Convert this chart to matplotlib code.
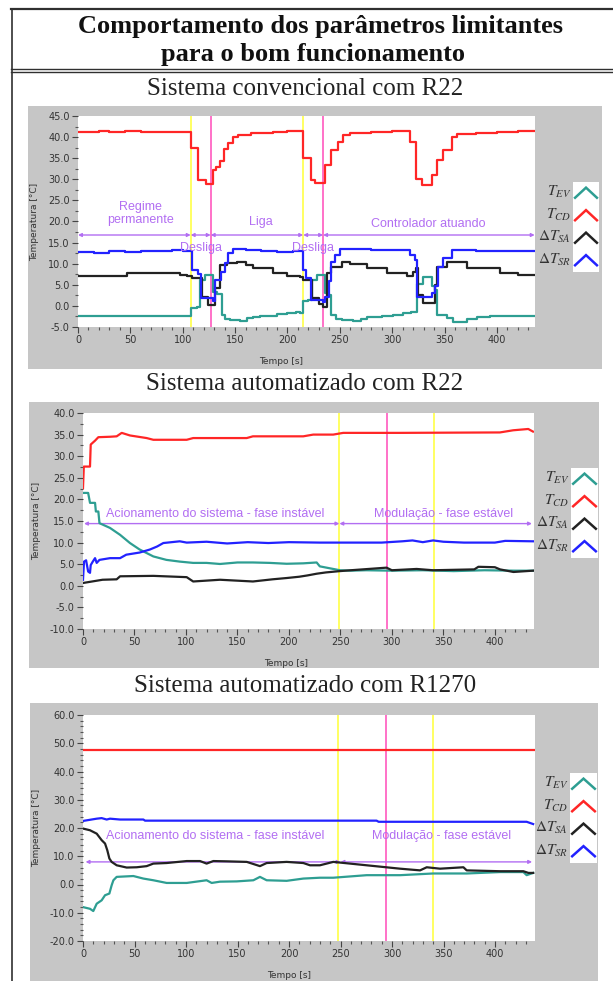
import matplotlib
matplotlib.use("Agg")
import matplotlib.pyplot as plt
from matplotlib.lines import Line2D
from matplotlib.patches import Rectangle
from matplotlib.ticker import MultipleLocator, FormatStrFormatter

plt.rcParams['mathtext.fontset'] = 'stix'

W, H = 613, 981

TEAL = '#2e9e92'
RED = '#ff2626'
BLACK = '#222222'
BLUE = '#2222ff'
YELLOW = '#ffff55'
MAGENTA = '#ff66c4'
PURPLE = '#b26ef2'
GRAY = '#c6c6c6'

series_labels = [r'$T_{EV}$', r'$T_{CD}$', r'$\mathit{\Delta} T_{SA}$', r'$\mathit{\Delta} T_{SR}$']

# --- Sistema convencional com R22 (stepped data) ---
conv_red_t = [0, 20, 30, 45, 60, 107.6, 115, 122, 128.6, 132, 135.6, 139.4, 143.5, 148.3, 153, 165,
              186.5, 200, 214.5, 222, 226, 234, 236, 242, 248.5, 253, 259.7, 280, 300, 317, 322.7, 328,
              336, 337.6, 342.4, 348.8, 356.7, 361.5, 380, 400, 420, 436.3]
conv_red = [41.3, 41.5, 41.2, 41.5, 41.3, 37.3, 29.8, 29.0, 32.2, 33.0, 34.4, 37.2, 38.6, 40.1, 40.6, 40.9,
            41.2, 41.4, 35.0, 29.8, 29.2, 29.2, 33.4, 37.0, 38.9, 40.5, 40.9, 41.2, 41.5, 38.9, 30.0, 28.6,
            28.6, 31.0, 34.6, 37.0, 40.1, 40.7, 41.0, 41.2, 41.4, 41.4]

conv_teal_t = [0, 107.6, 113.3, 116.5, 121.2, 128.6, 132.4, 137.2, 140, 145, 155, 161, 167, 174, 190, 200,
               208, 212, 215, 220, 223, 228, 236, 239, 242, 246, 252, 263, 270, 276, 290, 301, 310, 318,
               324, 329.7, 337.6, 340.8, 342.4, 352, 358.3, 371, 381, 393, 436.3]
conv_teal = [-2.4, -0.5, -0.2, 6.1, 7.3, 3.4, 2.8, -2.2, -3.0, -3.4, -3.5, -2.9, -2.6, -2.3, -2.0, -1.8,
             -1.5, -1.8, 1.2, 1.5, 6.1, 7.3, 3.1, 2.5, -2.2, -3.0, -3.4, -3.5, -3.0, -2.6, -2.3, -2.2, -1.8, -1.4,
             5.3, 6.8, 4.6, 3.8, -2.2, -2.9, -3.7, -3.0, -2.6, -2.3, -2.3]

conv_black_t = [0, 46.5, 97.4, 103.7, 108.5, 118, 124.4, 130.8, 135.6, 141.9, 151.5, 160, 167.4, 186.5, 200,
                212, 215, 223, 230, 234, 237.4, 242, 251.7, 260, 275.6, 294.7, 313.8, 320, 323, 325, 329.7,
                340.8, 342.4, 352, 371, 402.9, 420, 436.3]
conv_black = [7.1, 7.7, 7.4, 7.1, 6.5, 2.2, 0.2, 4.2, 9.7, 10.1, 10.3, 9.8, 8.9, 7.7, 7.2,
              6.8, 6.1, 1.8, 0.5, -0.2, 7.7, 9.3, 10.5, 10.0, 8.9, 7.9, 7.1, 8.0, 8.9, 2.6, 0.8,
              5.0, 9.3, 10.3, 8.9, 7.7, 7.3, 7.3]

conv_blue_t = [0, 15, 30, 45, 60, 75, 90, 100, 108.5, 114.9, 117, 129, 131, 137, 140.3, 143.5, 148.3, 160,
               175, 190, 205, 214.5, 218, 222, 234, 236, 240, 242, 245, 250, 260, 280, 300, 317, 321.7,
               324, 338, 340.8, 344, 348.8, 356.7, 380, 400, 420, 436.3]
conv_blue = [12.8, 12.6, 13.0, 12.8, 13.1, 12.9, 13.2, 13.0, 8.5, 7.6, 1.8, 1.2, 6.1, 8.0, 10.1, 12.5, 13.5, 13.3,
             13.0, 12.8, 12.9, 8.5, 6.5, 1.5, 1.0, 2.0, 6.0, 10.5, 12.1, 13.4, 13.6, 13.3, 13.2, 12.0, 10.9,
             2.2, 3.0, 4.6, 9.3, 11.3, 13.2, 13.0, 12.9, 13.0, 13.0]

conv_yellow = [107.6, 215]
conv_magenta = [126.7, 234]
conv_phases = [0, 107.6, 126.7, 215, 234, 436]

# --- Sistema automatizado com R22 ---
aut22_red_t = [0, 0.8, 6.8, 7.5, 11.7, 14.9, 26.2, 32.7, 37.6, 45.6, 61.8, 68.3, 100.7, 107, 159, 165,
               213.9, 223.6, 243, 252.7, 307.8, 404.9, 417.8, 432.4, 437]
aut22_red = [22.6, 27.6, 27.6, 32.7, 33.6, 34.4, 34.5, 34.6, 35.4, 34.8, 34.2, 33.8, 33.8, 34.2, 34.2, 34.6,
             34.6, 35.0, 35.0, 35.4, 35.4, 35.5, 36.0, 36.3, 35.7]

aut22_teal_t = [0, 5, 6.8, 11.7, 12.5, 14.9, 16, 26.2, 36, 45.6, 55, 68.3, 81, 94, 107, 120, 133, 150, 165,
                181.6, 197.8, 213.9, 226.9, 230, 243, 249.5, 260, 275, 300, 330, 360, 390, 420, 437]
aut22_teal = [21.5, 21.5, 19.2, 19.2, 17.2, 17.2, 14.5, 13.4, 11.8, 9.9, 8.4, 6.8, 6.0, 5.6, 5.3, 5.3, 5.05,
              5.4, 5.4, 5.3, 5.1, 5.2, 5.4, 4.5, 3.9, 3.6, 3.5, 3.6, 3.5, 3.6, 3.4, 3.6, 3.5, 3.5]

aut22_black_t = [0, 19, 32.7, 36, 68.3, 100.7, 107, 133, 165, 184, 197.8, 210, 218, 227, 236, 249.5, 260,
                 294.8, 300, 324, 340, 380, 384, 400, 405, 418, 437]
aut22_black = [0.65, 1.4, 1.5, 2.2, 2.3, 2.0, 1.0, 1.4, 1.0, 1.5, 1.8, 2.1, 2.4, 2.8, 3.1, 3.4, 3.6,
               4.2, 3.6, 3.9, 3.6, 3.8, 4.4, 4.3, 3.8, 3.2, 3.5]

aut22_blue_t = [0, 1, 3, 5, 6.8, 7.5, 9.5, 11.7, 13.3, 16, 26.2, 36, 42, 55, 65, 72, 78, 94, 100.7, 120, 140,
                160, 180, 200, 230, 260, 290, 310, 320, 330, 340, 350, 370, 400, 410, 437]
aut22_blue = [1.4, 5.6, 5.9, 3.3, 3.0, 4.8, 5.6, 6.4, 5.3, 6.0, 6.4, 6.4, 7.2, 7.7, 8.4, 9.1, 9.9, 10.3, 10.0,
              10.2, 9.8, 10.1, 9.9, 10.1, 10.0, 10.0, 10.0, 10.3, 10.5, 10.1, 10.5, 10.2, 10.0, 10.0, 10.4, 10.3]

aut22_yellow = [249, 341]
aut22_magenta = [295.5]
aut22_phases = [1, 249, 436]

# --- Sistema automatizado com R1270 ---
aut1270_red_t = [0, 438]
aut1270_red = [47.6, 47.6]

aut1270_blue_t = [0, 13.3, 18.1, 23, 26.2, 36, 58.6, 60.2, 285, 287, 430.7, 437]
aut1270_blue = [22.5, 23.3, 23.5, 23.0, 23.3, 23.0, 23.0, 22.6, 22.6, 22.2, 22.2, 21.4]

aut1270_black_t = [0, 6.8, 13.3, 18.1, 21.4, 23.6, 25.6, 27.8, 32.7, 42.4, 52.1, 61.8, 68.3, 81.2, 100.7,
                   113.6, 120, 126.5, 139.5, 159, 171.8, 178.3, 197.7, 213.9, 220.4, 230, 243, 275.4, 307.8,
                   327.2, 333.7, 346.6, 369.3, 372.5, 404.9, 427.5, 432.4, 437]
aut1270_black = [19.8, 19.2, 18.0, 15.7, 14.5, 12.1, 9.2, 8.0, 6.8, 6.0, 6.1, 6.5, 7.4, 7.6, 8.3,
                 8.3, 7.4, 8.3, 8.2, 8.0, 6.5, 7.6, 8.0, 7.6, 6.8, 6.8, 8.0, 6.8, 5.6,
                 5.0, 6.1, 5.6, 6.1, 5.0, 4.7, 4.7, 4.1, 4.1]

aut1270_teal_t = [0, 6.8, 10, 13.3, 18.1, 21.4, 25.6, 27.8, 29.5, 32.7, 48.9, 58.6, 68.3, 81.2, 100.7, 120,
                  124.9, 133, 149.2, 165.4, 171.8, 178.3, 197.7, 213.9, 230, 243, 275.4, 307.8, 340, 372.5,
                  404.9, 427.5, 430.7, 437]
aut1270_teal = [-8.0, -8.6, -9.4, -6.8, -5.6, -3.8, -3.2, -0.3, 1.5, 2.7, 3.0, 2.1, 1.5, 0.55, 0.55, 1.5,
                0.55, 1.0, 1.1, 1.5, 2.7, 1.5, 1.3, 2.1, 2.4, 2.4, 3.3, 3.3, 3.9, 3.9,
                4.4, 4.4, 3.3, 4.1]

aut1270_yellow = [248, 340]
aut1270_magenta = [294]
aut1270_phases = [2.5, 250, 436]


def fbox(x0, y0, x1, y1):
    # pixel box (top-left origin) -> figure fraction rect
    return [x0 / W, 1 - y1 / H, (x1 - x0) / W, (y1 - y0) / H]


def hline(fig, x0, x1, y, lw=1.0, color='#303030'):
    fig.add_artist(Line2D([x0 / W, x1 / W], [1 - y / H, 1 - y / H], transform=fig.transFigure,
                          color=color, lw=lw))


def vline(fig, x, y0, y1, lw=1.0, color='#303030'):
    fig.add_artist(Line2D([x / W, x / W], [1 - y0 / H, 1 - y1 / H], transform=fig.transFigure,
                          color=color, lw=lw))


def gray_panel(fig, x0, y0, x1, y1):
    fig.add_artist(Rectangle((x0 / W, 1 - y1 / H), (x1 - x0) / W, (y1 - y0) / H,
                             transform=fig.transFigure, facecolor=GRAY, edgecolor='none', zorder=-5))


def setup_axes(ax, xmax, ylim, ymajor, yminor):
    ax.set_xlim(0, xmax)
    ax.set_ylim(*ylim)
    ax.set_facecolor('white')
    for s in ax.spines.values():
        s.set_visible(False)
    ax.xaxis.set_major_locator(MultipleLocator(50))
    ax.xaxis.set_minor_locator(MultipleLocator(10))
    ax.yaxis.set_major_locator(MultipleLocator(ymajor))
    ax.yaxis.set_minor_locator(MultipleLocator(yminor))
    ax.yaxis.set_major_formatter(FormatStrFormatter('%.1f'))
    ax.tick_params(which='major', direction='out', length=4, width=0.8, labelsize=7,
                   colors='#444444', pad=2)
    ax.tick_params(which='minor', direction='out', length=2, width=0.8, colors='#555555')
    for lab in ax.get_xticklabels() + ax.get_yticklabels():
        lab.set_color('#333333')


def phase_line(ax, y, bounds):
    for a, b in zip(bounds[:-1], bounds[1:]):
        ax.annotate('', xy=(b, y), xytext=(a, y),
                    arrowprops=dict(arrowstyle='<|-|>', color=PURPLE, lw=1.0, mutation_scale=5,
                                    shrinkA=0, shrinkB=0), zorder=1.5)


def legend_box(fig, x0, y0, x1, y1):
    lax = fig.add_axes(fbox(x0, y0, x1, y1))
    lax.set_xlim(0, 1)
    lax.set_ylim(0, 4)
    lax.axis('off')
    lax.add_patch(Rectangle((0, 0), 1, 4, facecolor='white', edgecolor='none'))
    for i, c in enumerate([TEAL, RED, BLACK, BLUE]):
        base = 3 - i
        lax.plot([0.08, 0.5, 0.92], [base + 0.3, base + 0.75, base + 0.3], color=c, lw=1.8,
                 solid_joinstyle='miter')
    step = (y1 - y0) / 4
    for i, lab in enumerate(series_labels):
        yc = y0 + step * (i + 0.45)
        fig.text((x0 - 2) / W, 1 - yc / H, lab, ha='right', va='center', fontsize=11,
                 color='#333333')


def panel(fig, bg, plot_box, xmax, ylim, ymajor, yminor, data, steps, yellow, magenta,
          phase_y, phases, notes, ylab_x, xlab_xy, leg_box):
    gray_panel(fig, *bg)
    ax = fig.add_axes(fbox(*plot_box))
    setup_axes(ax, xmax, ylim, ymajor, yminor)
    for t in yellow:
        ax.axvline(t, color=YELLOW, lw=1.3, zorder=1)
    for t in magenta:
        ax.axvline(t, color=MAGENTA, lw=1.3, zorder=1)
    phase_line(ax, phase_y, phases)
    ds = 'steps-post' if steps else 'default'
    for t, v, c in data:
        ax.plot(t, v, color=c, lw=1.6, drawstyle=ds, zorder=2)
    for (tx, ty, txt) in notes:
        ax.text(tx, ty, txt, ha='center', va='center', color=PURPLE, fontsize=9,
                family='Liberation Sans', zorder=3, linespacing=1.1)
    yc = (plot_box[1] + plot_box[3]) / 2
    fig.text(ylab_x / W, 1 - yc / H, 'Temperatura [°C]', rotation=90, ha='center', va='center',
             fontsize=6.5, color='#333333')
    fig.text(xlab_xy[0] / W, 1 - xlab_xy[1] / H, 'Tempo [s]', ha='center', va='center',
             fontsize=6.5, color='#333333')
    legend_box(fig, *leg_box)
    return ax


fig = plt.figure(figsize=(W / 100, H / 100), dpi=100)
fig.patch.set_facecolor('white')

# table frame
hline(fig, 11, W, 9, lw=1.6)
hline(fig, 11, W, 68.5, lw=1.0)
hline(fig, 11, W, 71.5, lw=1.0)
vline(fig, 11.5, 9, H, lw=1.2)

title_kw = dict(ha='center', va='center', family='Liberation Serif', weight='bold', fontsize=19,
                color='#111111')
fig.text(320 / W, 1 - 27 / H, 'Comportamento dos parâmetros limitantes', **title_kw)
fig.text(313 / W, 1 - 54 / H, 'para o bom funcionamento', **title_kw)

subtitle_kw = dict(ha='center', va='center', family='Liberation Serif', fontsize=18, color='#222222')
fig.text(305 / W, 1 - 89 / H, 'Sistema convencional com R22', **subtitle_kw)
fig.text(305 / W, 1 - 384 / H, 'Sistema automatizado com R22', **subtitle_kw)
fig.text(305 / W, 1 - 686 / H, 'Sistema automatizado com R1270', **subtitle_kw)

panel(fig, (28, 106, 602, 369), (78, 116, 535, 327), 436.3, (-5, 45), 5, 2.5,
      [(conv_teal_t, conv_teal, TEAL), (conv_red_t, conv_red, RED),
       (conv_black_t, conv_black, BLACK), (conv_blue_t, conv_blue, BLUE)],
      True, conv_yellow, conv_magenta, 16.8, conv_phases,
      [(60, 22.0, 'Regime\npermanente'), (175, 19.8, 'Liga'), (117, 13.8, 'Desliga'),
       (224, 13.8, 'Desliga'), (334, 19.3, 'Controlador atuando')],
      35, (281, 362), (573, 182, 599, 272))

panel(fig, (29, 402, 599, 668), (83, 413, 534, 629), 438, (-10, 40), 5, 2.5,
      [(aut22_teal_t, aut22_teal, TEAL), (aut22_red_t, aut22_red, RED),
       (aut22_black_t, aut22_black, BLACK), (aut22_blue_t, aut22_blue, BLUE)],
      False, aut22_yellow, aut22_magenta, 14.4, aut22_phases,
      [(128, 16.6, 'Acionamento do sistema - fase instável'),
       (350, 16.6, 'Modulação - fase estável')],
      37, (286, 663), (571, 468, 598, 558))

panel(fig, (30, 703, 598, H + 5), (83, 715, 535, 941), 438.8, (-20, 60), 10, 2,
      [(aut1270_teal_t, aut1270_teal, TEAL), (aut1270_red_t, aut1270_red, RED),
       (aut1270_black_t, aut1270_black, BLACK), (aut1270_blue_t, aut1270_blue, BLUE)],
      False, aut1270_yellow, aut1270_magenta, 8.0, aut1270_phases,
      [(128, 17.0, 'Acionamento do sistema - fase instável'),
       (348, 17.0, 'Modulação - fase estável')],
      37, (289, 975), (570, 773, 597, 863))

fig.savefig('out.png', dpi=100, facecolor='white')
